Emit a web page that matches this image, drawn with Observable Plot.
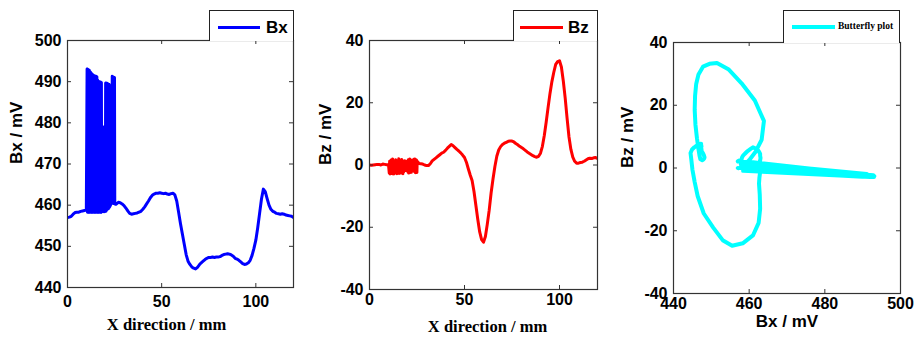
<!DOCTYPE html>
<html><head><meta charset="utf-8">
<script src="https://cdn.jsdelivr.net/npm/d3@7"></script>
<script src="https://cdn.jsdelivr.net/npm/@observablehq/plot@0.6"></script>
<style>
html,body{margin:0;padding:0;background:#fff;overflow:hidden;width:916px;height:342px;}
#wrap{position:relative;width:916px;height:342px;overflow:visible;font-family:"Liberation Sans",Arial,sans-serif;}
.panel{position:absolute;top:0;line-height:0;}
.panel svg{display:block;}
.legend{position:absolute;box-sizing:border-box;border:1.3px solid #222;border-bottom:none;background:#fff;}
.sw{position:absolute;}
.lt{position:absolute;font-weight:bold;white-space:nowrap;line-height:1;}
</style>
</head><body>
<div id="wrap">
  <div class="panel" id="p1" style="left:0px"></div>
  <div class="panel" id="p2" style="left:300px"></div>
  <div class="panel" id="p3" style="left:610px"></div>
  <div class="legend" style="left:209px;top:10px;width:85px;height:31px">
    <div class="sw" style="left:8px;top:15px;width:42px;height:3px;background:#0000ff"></div>
    <div class="lt" style="left:56px;top:8px;font-size:17px">Bx</div>
  </div>
  <div class="legend" style="left:513px;top:10px;width:85px;height:31px">
    <div class="sw" style="left:6px;top:15px;width:43px;height:3px;background:#ff0000"></div>
    <div class="lt" style="left:54px;top:8px;font-size:17px">Bz</div>
  </div>
  <div class="legend" style="left:783px;top:10px;width:117px;height:33px">
    <div class="sw" style="left:8px;top:14px;width:43px;height:4px;background:#00ffff"></div>
    <div class="lt" style="left:54px;top:11px;font-size:9.5px;font-family:'Liberation Serif','Times New Roman',serif">Butterfly plot</div>
  </div>
</div>
<script>
// Scan position along X direction (mm)
const X = [
  0,1,2,3,4,5,6,7,8,9,10,
  10.4,10.6,10.8,11.0,11.2,11.4,11.6,11.8,12.0,12.2,
  12.4,12.6,12.8,13.0,13.2,13.4,13.6,13.8,14.0,14.2,
  14.4,14.6,14.8,15.0,15.2,15.4,15.6,15.8,16.0,16.2,
  16.4,16.6,16.8,17.0,17.2,17.4,17.6,17.8,18.0,18.15,
  18.35,18.55,18.75,18.95,19.15,19.35,19.55,19.75,19.95,20.1,
  20.25,20.45,20.65,20.85,21.05,21.25,21.45,21.65,21.85,22.0,
  22.15,22.3,22.7,23.1,23.45,23.6,23.75,23.95,24.15,24.35,
  24.55,24.75,24.95,25.1,25.6,
  26,27,28,29,30,31,32,33,34,35,
  36,37,38,39,40,41,42,43,44,45,
  46,47,48,49,50,51,52,53,54,55,
  56,57,58,59,60,61,62,63,64,65,
  66,67,68,69,70,71,72,73,74,75,
  76,77,78,79,80,81,82,83,84,85,
  86,87,88,89,90,91,92,93,94,95,
  96,97,98,99,100,101,102,103,104,105,
  106,107,108,109,110,111,112,113,114,115,
  116,117,118,119,120
];
// Bx signal (mV)
const BX = [
  457.0,457.1,457.3,457.8,458.2,458.3,458.3,458.5,458.6,458.7,458.8,
  493.1,458.3,493.0,458.4,492.9,458.2,492.8,458.5,492.4,458.3,
  492.2,458.4,492.0,458.2,491.8,458.5,491.6,458.3,491.5,458.4,
  491.4,458.2,491.3,458.5,491.3,458.3,491.2,458.4,490.4,458.2,
  490.1,458.5,490.0,458.3,489.9,458.4,489.9,458.2,489.8,458.5,
  470.0,458.5,476.0,458.4,479.0,458.5,477.0,458.4,472.0,458.6,
  489.7,458.5,489.6,458.8,489.6,459.0,489.5,459.1,489.4,459.3,
  489.3,459.5,459.9,460.3,460.6,460.5,491.3,460.5,491.2,460.4,
  491.1,460.4,491.0,460.3,460.2,
  460.3,460.7,460.6,460.3,459.9,459.3,458.6,458.0,457.8,457.9,
  458.0,458.1,458.3,458.5,459.0,459.6,460.3,461.0,461.8,462.4,
  462.7,462.9,462.9,463.0,462.9,462.8,462.9,462.7,462.6,462.8,
  462.9,462.5,461.0,458.3,455.5,453.0,450.5,448.0,446.4,445.6,
  445.0,444.7,444.5,444.9,445.5,446.0,446.4,446.8,447.1,447.3,
  447.3,447.4,447.3,447.4,447.4,447.5,447.8,448.0,448.1,448.2,
  448.1,447.9,447.6,447.1,446.9,446.6,446.2,445.8,445.6,445.7,
  446.0,446.6,447.8,449.5,451.5,454.5,458.0,461.5,463.9,463.3,
  461.6,460.0,459.0,458.5,458.3,458.0,457.9,457.8,457.9,457.8,
  457.6,457.5,457.4,457.3,457.0
];
// Bz signal (mV)
const BZ = [
  0.0,-0.1,0.0,0.1,0.2,0.2,0.0,0.3,0.2,0.1,0.1,
  -2.6,1.2,-2.9,-0.6,-2.7,1.6,-2.3,0.2,-2.8,1.9,
  -2.5,-0.9,-2.9,1.0,-2.2,0.5,-2.6,1.7,-2.4,-0.4,
  -2.8,1.3,-2.1,0.8,-2.5,2.0,-2.7,-0.2,-2.3,1.5,
  -2.6,0.3,-2.0,1.8,-2.4,-0.7,-2.8,1.1,-2.2,0.6,
  -1.0,1.4,-1.5,0.2,-1.8,1.2,-1.4,-0.3,-1.1,1.0,
  -2.3,1.7,-2.6,0.4,-2.1,1.9,-2.4,-0.1,-2.0,1.5,
  -2.3,0.9,1.6,1.1,1.8,1.3,-2.2,1.9,-2.5,0.8,
  -1.9,1.6,-2.4,1.2,0.9,
  0.5,0.4,0.3,0.0,-0.2,-0.2,0.4,1.3,1.8,2.3,
  2.8,3.3,3.8,4.1,4.7,5.4,6.0,6.6,6.2,5.6,
  5.0,4.5,3.9,3.2,2.4,0.9,-1.2,-3.2,-5.0,-8.5,
  -13.0,-17.5,-21.5,-24.0,-24.8,-23.0,-19.0,-14.5,-9.0,-4.5,
  -0.5,2.8,4.8,5.9,6.6,7.0,7.3,7.6,7.7,7.7,
  7.4,6.9,6.5,6.0,5.6,5.2,4.7,4.2,3.8,3.4,
  3.0,2.7,2.5,2.8,3.8,6.0,9.5,13.8,18.5,23.0,
  26.8,29.8,32.3,33.2,33.5,31.5,27.0,21.5,15.0,9.0,
  5.0,2.5,1.2,0.6,0.6,0.8,0.9,1.2,1.6,2.0,
  2.2,2.1,2.3,2.4,2.1
];
if (X.length !== BX.length || X.length !== BZ.length) throw new Error("length mismatch " + X.length + " " + BX.length + " " + BZ.length);
const rows = X.map((x, i) => ({x, bx: BX[i], bz: BZ[i]}));

const bxTicks = [440, 450, 460, 470, 480, 490, 500];
const bzTicks = [-40, -20, 0, 20, 40];
const mmTicks = [0, 50, 100];
const bxAxisTicks = [440, 460, 480, 500];

function makePanel(o) {
  const H = 342;
  const fw = o.width - o.ml - o.mr, fh = H - o.mt - o.mb;
  return Plot.plot({
    width: o.width, height: H,
    marginLeft: o.ml, marginRight: o.mr, marginTop: o.mt, marginBottom: o.mb,
    x: {domain: o.xDomain}, y: {domain: o.yDomain},
    style: {fontFamily: "'Liberation Sans', Arial, sans-serif", fontSize: "16px", fontWeight: "bold", color: "#000", background: "transparent", overflow: "visible"},
    marks: [
      Plot.line(rows, {x: o.x, y: o.y, stroke: o.stroke, strokeWidth: o.sw, strokeLinejoin: "round", clip: true}),
      Plot.tickY(o.yInner, {y: d => d, insetRight: fw - 4, stroke: "#333"}),
      Plot.tickY(o.yInner, {y: d => d, insetLeft: fw - 4, stroke: "#333"}),
      Plot.tickX(o.xInner, {x: d => d, insetTop: fh - 4, stroke: "#333"}),
      Plot.tickX(o.xInner, {x: d => d, insetBottom: fh - 4, stroke: "#333"}),
      Plot.frame({stroke: "#333", strokeWidth: 1.2}),
      Plot.axisX(o.xTicks, {tickSize: 0, tickPadding: o.xPad, tickFormat: d => String(d), label: null}),
      Plot.axisY(o.yTicks, {tickSize: 0, tickPadding: 6, tickFormat: d => String(d), label: null}),
      Plot.text([o.xLabel], {text: d => d, frameAnchor: "bottom", dx: o.xLabelDx, dy: o.xLabelDy, fontFamily: o.xLabelFont, fontSize: o.xLabelSize, fontWeight: "bold", fill: "#000"}),
      Plot.text([o.yLabel], {text: d => d, frameAnchor: "left", dx: o.yLabelDx, rotate: -90, fontSize: 17, fontWeight: "bold", fill: "#000"})
    ]
  });
}

document.getElementById("p1").append(makePanel({
  width: 300, ml: 67, mr: 7, mt: 40, mb: 55,
  x: "x", y: "bx", xDomain: [0, 120], yDomain: [440, 500],
  xTicks: mmTicks, yTicks: bxTicks, xInner: [50, 100], yInner: [450, 460, 470, 480, 490],
  stroke: "#0000ff", sw: 3, xPad: 8,
  xLabel: "X direction / mm", xLabelFont: "'Liberation Serif', 'Times New Roman', serif", xLabelSize: 16.5, xLabelDx: -14, xLabelDy: 42.5,
  yLabel: "Bx / mV", yLabelDx: -51
}));
document.getElementById("p2").append(makePanel({
  width: 310, ml: 69, mr: 13, mt: 40, mb: 53,
  x: "x", y: "bz", xDomain: [0, 120], yDomain: [-40, 40],
  xTicks: mmTicks, yTicks: bzTicks, xInner: [50, 100], yInner: [-20, 0, 20],
  stroke: "#ff0000", sw: 3, xPad: 4,
  xLabel: "X direction / mm", xLabelFont: "'Liberation Serif', 'Times New Roman', serif", xLabelSize: 16.5, xLabelDx: 4, xLabelDy: 42,
  yLabel: "Bz / mV", yLabelDx: -44
}));
document.getElementById("p3").append(makePanel({
  width: 306, ml: 63, mr: 16, mt: 42, mb: 49,
  x: "bx", y: "bz", xDomain: [440, 500], yDomain: [-40, 40],
  xTicks: bxAxisTicks, yTicks: bzTicks, xInner: [460, 480], yInner: [-20, 0, 20],
  stroke: "#00ffff", sw: 4, xPad: 4,
  xLabel: "Bx / mV", xLabelFont: "'Liberation Sans', Arial, sans-serif", xLabelSize: 17, xLabelDx: 0, xLabelDy: 33,
  yLabel: "Bz / mV", yLabelDx: -46
}));
</script>
</body></html>
